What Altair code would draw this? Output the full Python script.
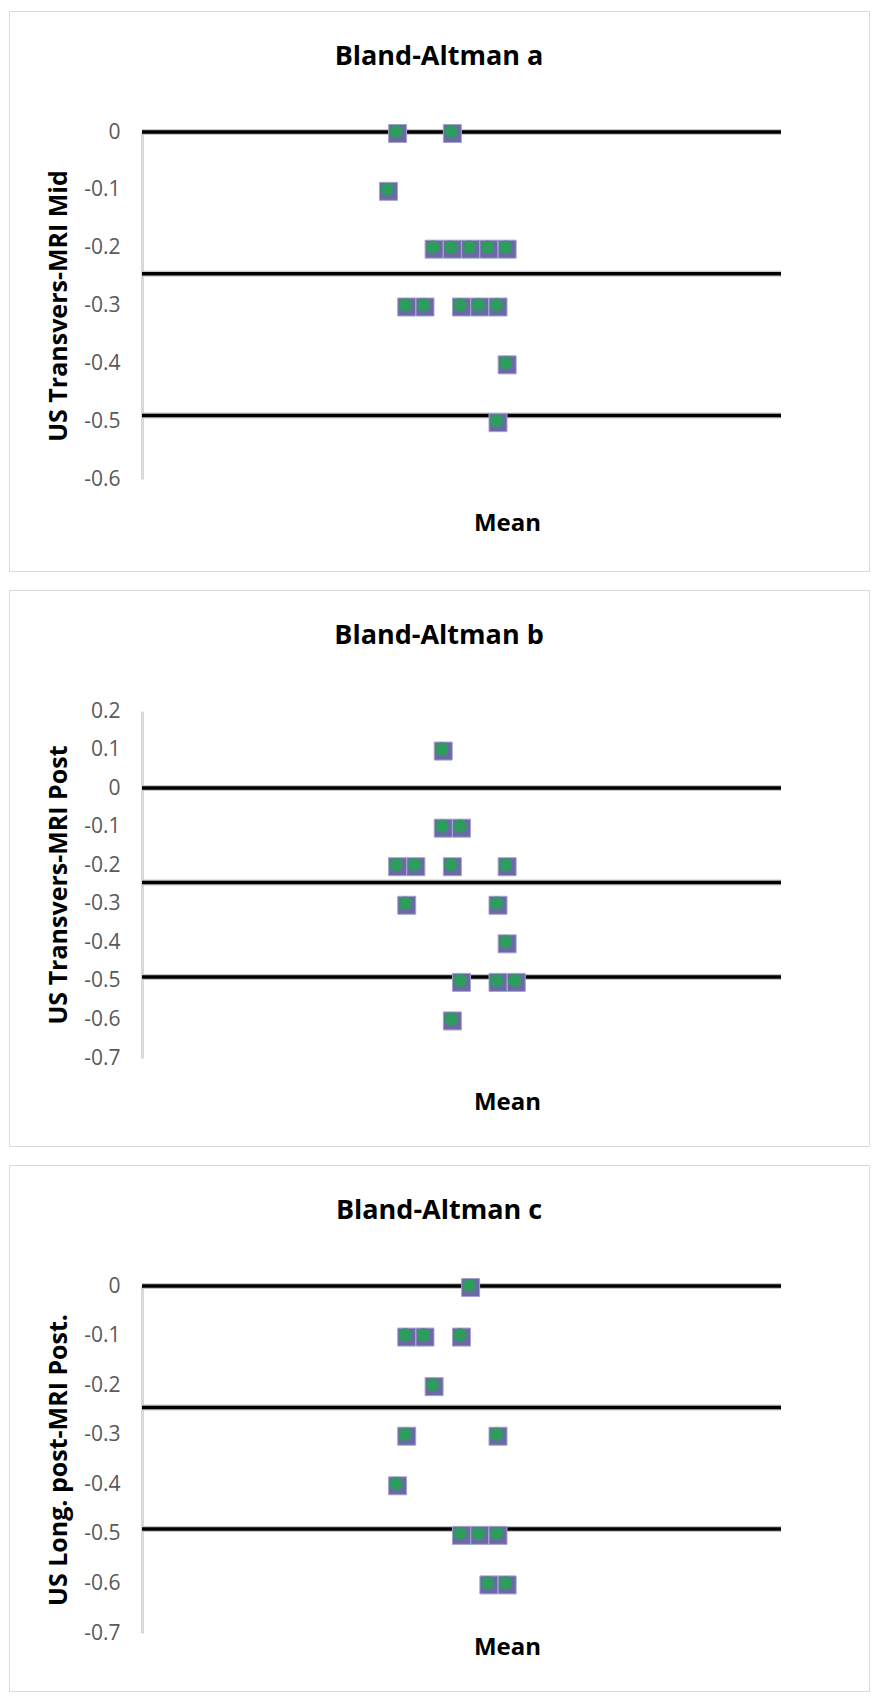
import altair as alt
import pandas as pd

# ---- data ----
x_domain = [0, 3.5]
limit_lines = [0, -0.245, -0.49]

a_title = "Bland-Altman a"
a_ytitle = "US Transvers-MRI Mid"
a_mean = [1.40, 1.70, 1.35, 1.60, 1.70, 1.80, 1.90, 2.00, 1.45, 1.55, 1.75, 1.85, 1.95, 2.00, 1.95]
a_diff = [0, 0, -0.1, -0.2, -0.2, -0.2, -0.2, -0.2, -0.3, -0.3, -0.3, -0.3, -0.3, -0.4, -0.5]
a_ticks = [0, -0.1, -0.2, -0.3, -0.4, -0.5, -0.6]

b_title = "Bland-Altman b"
b_ytitle = "US Transvers-MRI Post"
b_mean = [1.65, 1.65, 1.75, 1.40, 1.50, 1.70, 2.00, 1.45, 1.95, 2.00, 1.75, 1.95, 2.05, 1.70]
b_diff = [0.1, -0.1, -0.1, -0.2, -0.2, -0.2, -0.2, -0.3, -0.3, -0.4, -0.5, -0.5, -0.5, -0.6]
b_ticks = [0.2, 0.1, 0, -0.1, -0.2, -0.3, -0.4, -0.5, -0.6, -0.7]

c_title = "Bland-Altman c"
c_ytitle = "US Long. post-MRI Post."
c_mean = [1.80, 1.45, 1.55, 1.75, 1.60, 1.45, 1.95, 1.40, 1.75, 1.85, 1.95, 1.90, 2.00]
c_diff = [0, -0.1, -0.1, -0.1, -0.2, -0.3, -0.3, -0.4, -0.5, -0.5, -0.5, -0.6, -0.6]
c_ticks = [0, -0.1, -0.2, -0.3, -0.4, -0.5, -0.6, -0.7]

PANEL_W = 860
Y_RANGE = [468, 121]
X_RANGE = [133, 772]
FONT = "Open Sans"


def panel(title, ytitle, means, diffs, ticks, height, mean_y):
    pts = pd.DataFrame({"Mean": means, "Diff": diffs})
    lines = pd.DataFrame({"Mean": [x_domain[0]] * len(limit_lines),
                          "Mean_end": [x_domain[1]] * len(limit_lines),
                          "Diff": limit_lines})
    x_enc = alt.X(
        "Mean:Q",
        scale=alt.Scale(domain=x_domain, range=X_RANGE, nice=False, zero=False),
        axis=alt.Axis(title="Mean", domain=False, labels=False, ticks=False, grid=False,
                      orient="top", offset=-Y_RANGE[0],
                      titleX=498, titleY=mean_y - Y_RANGE[0], titleBaseline="middle",
                      titleAlign="center",
                      titleFont=FONT, titleFontSize=24, titleFontWeight="bold", titleColor="black"),
    )
    y_enc = alt.Y(
        "Diff:Q",
        scale=alt.Scale(domain=[min(ticks), max(ticks)], range=Y_RANGE, nice=False, zero=False),
        axis=alt.Axis(title=ytitle, values=ticks, grid=False, ticks=False, tickSize=0,
                      offset=-X_RANGE[0], domainColor="#d9d9d9", domainWidth=3,
                      labelExpr="datum.value == 0 ? '0' : (datum.value < 0 ? '-' : '') + format(abs(datum.value), '.1f')",
                      labelFont=FONT, labelFontSize=21, labelColor="#595959", labelPadding=22,
                      titleFont=FONT, titleFontSize=25, titleFontWeight="bold", titleColor="black",
                      titleAngle=270, titleX=-84, titleY=(Y_RANGE[0] + Y_RANGE[1]) / 2,
                      titleBaseline="middle", titleAlign="center"),
    )
    halo = alt.Chart(lines).mark_rule(color="#c8c8c8", strokeWidth=6).encode(
        x=x_enc, x2="Mean_end:Q", y=y_enc)
    rule = alt.Chart(lines).mark_rule(color="black", strokeWidth=3.5).encode(
        x=x_enc, x2="Mean_end:Q", y=y_enc)
    sq = alt.Chart(pts).mark_square(size=324, fill="#6B69A6", stroke="#A4A3CC",
                                    strokeWidth=1, opacity=1, yOffset=1.5).encode(x=x_enc, y=y_enc)
    dot = alt.Chart(pts).mark_circle(size=180, color="#2E9B5F", opacity=1,
                                     xOffset=-1.5, yOffset=-0.5).encode(x=x_enc, y=y_enc)
    return alt.layer(halo, rule, sq, dot).properties(
        width=PANEL_W, height=height,
        title=alt.Title(title, anchor="middle", frame="group", offset=-73, baseline="middle",
                        fontSize=27, font=FONT, fontWeight="bold", color="black"),
    )


pa = panel(a_title, a_ytitle, a_mean, a_diff, a_ticks, 560, 512)
pb = panel(b_title, b_ytitle, b_mean, b_diff, b_ticks, 556, 512)
pc = panel(c_title, c_ytitle, c_mean, c_diff, c_ticks, 526, 482)

chart = alt.vconcat(pa, pb, pc, spacing=17).properties(
    padding={"top": 2, "left": 0, "right": 0, "bottom": 0},
    background="white",
).configure_view(stroke="#d9d9d9", strokeWidth=1)

chart.save("out.html", embed_options={"renderer": "svg", "actions": False})
